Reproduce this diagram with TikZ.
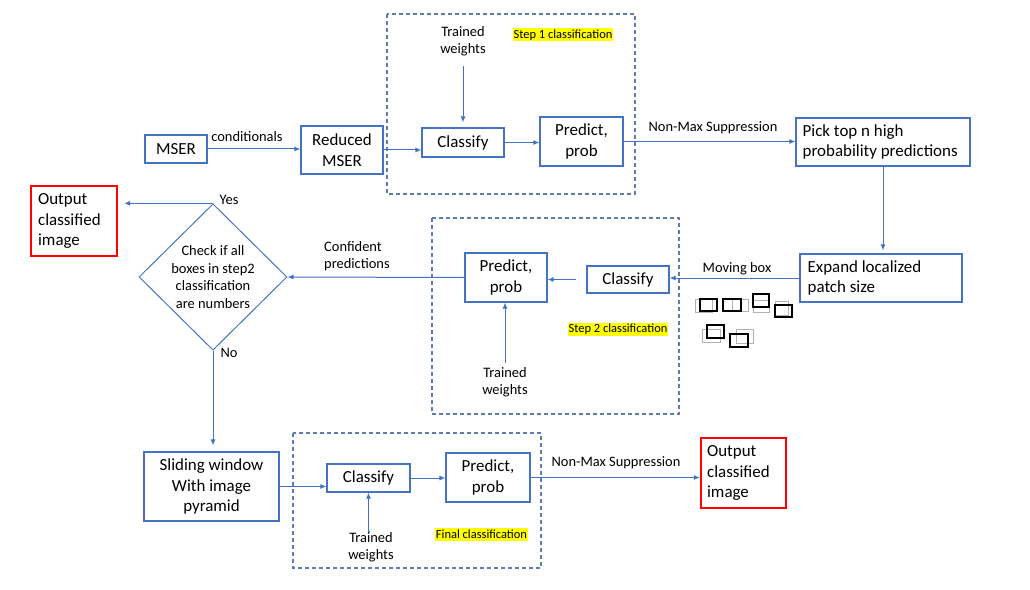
\documentclass[tikz,border=0pt]{standalone}
\usepackage{fontspec}
\setmainfont{Carlito}
\usetikzlibrary{shapes.geometric,arrows.meta}
\definecolor{bl}{HTML}{4472C4}
\definecolor{dsh}{HTML}{5B7DB1}
\definecolor{rd}{HTML}{FF0000}
\definecolor{hly}{HTML}{FFFF00}
\tikzset{
  blbox/.style={draw=bl,line width=1.1bp,rectangle,inner sep=0pt,align=center,font=\fontsize{17}{21}\selectfont},
  redbox/.style={draw=rd,line width=2.2bp,rectangle,inner sep=0pt},
  boxtxt/.style={inner sep=0pt,anchor=west,align=left,font=\fontsize{17}{20.5}\selectfont},
  dashbox/.style={draw=dsh,line width=1.1bp,dash pattern=on 4bp off 3bp},
  lbl/.style={inner sep=0pt,font=\fontsize{14.5}{17.5}\selectfont},
  hl/.style={fill=hly,inner sep=0pt,minimum width=#1,minimum height=13bp,font=\fontsize{12.5}{14}\selectfont},
  arr/.style={draw=bl,line width=1bp,-{Latex[length=6bp,width=5bp]}},
  grb/.style={draw=black!30,line width=0.8bp},
  bkb/.style={draw=black,line width=1.6bp}
}
\begin{document}
\begin{tikzpicture}[x=1bp,y=-1bp]
\useasboundingbox (0,0) rectangle (1030,590);
% dashed groups
\draw[dashbox] (387,14) rectangle (635,194);
\draw[dashbox] (432,218) rectangle (679,414);
\draw[dashbox] (293,433) rectangle (541,568);
% boxes
\node[blbox,minimum width=62bp,minimum height=28bp] (mser) at (176,149) {MSER};
\node[blbox,minimum width=82bp,minimum height=48bp] (red) at (342,150) {Reduced\\MSER};
\node[blbox,minimum width=82bp,minimum height=29bp] (cls1) at (463,142.5) {Classify};
\node[blbox,minimum width=83bp,minimum height=49bp] (pred1) at (581.5,141.5) {Predict,\\prob};
\node[blbox,minimum width=174bp,minimum height=48bp] (pick) at (883,142) {};
\node[boxtxt] (picktxt) at ([xshift=7bp]pick.west) {Pick top n high\\probability predictions};
\node[blbox,minimum width=162bp,minimum height=48bp] (expand) at (881,278) {};
\node[boxtxt] (expandtxt) at ([xshift=8bp]expand.west) {Expand localized\\patch size};
\node[blbox,minimum width=82bp,minimum height=27bp] (cls2) at (628,279.5) {Classify};
\node[blbox,minimum width=82bp,minimum height=49bp] (pred2) at (506,277.5) {Predict,\\prob};
\node[draw=bl,line width=1bp,diamond,inner sep=0pt,minimum width=148bp,minimum height=142bp,align=center,font=\fontsize{14.5}{17.7}\selectfont] (dia) at (213,277) {Check if all\\boxes in step2\\classification\\are numbers};
\node[redbox,minimum width=86bp,minimum height=70bp] (out1) at (74,221) {};
\node[boxtxt] (out1txt) at ([xshift=8bp]out1.west) {Output\\classified\\image};
\node[blbox,minimum width=135bp,minimum height=69bp] (slide) at (211.5,486.5) {Sliding window\\With image\\pyramid};
\node[blbox,minimum width=83bp,minimum height=28bp] (cls3) at (368.5,478) {Classify};
\node[blbox,minimum width=84bp,minimum height=49bp] (pred3) at (488,477.5) {Predict,\\prob};
\node[redbox,minimum width=85bp,minimum height=70bp] (out2) at (743.5,473) {};
\node[boxtxt] (out2txt) at ([xshift=7bp]out2.west) {Output\\classified\\image};
% trained weights
\node[lbl,align=center] (tw1) at (463,41) {Trained\\weights};
\node[lbl,align=center] (tw2) at (505,382) {Trained\\weights};
\node[lbl,align=center] (tw3) at (371,547) {Trained\\weights};
% highlights
\node[hl=100bp] (h1) at (563,35) {Step 1 classification};
\node[hl=100bp] (h2) at (618,329) {Step 2 classification};
\node[hl=93bp] (h3) at (481.5,534.5) {Final classification};
% labels
\node[lbl] (lcond) at (247,137) {conditionals};
\node[lbl] (lnms1) at (713,128) {Non-Max Suppression};
\node[lbl] (lmov) at (737,269) {Moving box};
\node[lbl,align=left,anchor=west] (lconf) at (324,256) {Confident\\predictions};
\node[lbl] (lyes) at (229,200) {Yes};
\node[lbl] (lno) at (229,353) {No};
\node[lbl] (lnms2) at (616,463) {Non-Max Suppression};
% connectors
\draw[arr] (mser.east) -- (mser.east -| red.west);
\draw[arr] (red.east) -- (red.east -| cls1.west);
\draw[arr] (cls1.east) -- (cls1.east -| pred1.west);
\draw[arr] (pred1.east) -- (pred1.east -| pick.west);
\draw[arr,shorten <=10bp,shorten >=5bp] (tw1.south) -- (cls1.north);
\draw[arr,shorten >=3bp] (pick.south) -- (pick.south |- expand.north);
\draw[arr] (expand.west) -- (expand.west -| cls2.east);
\draw[arr,shorten <=10bp] (cls2.west) -- (cls2.west -| pred2.east);
\draw[arr,shorten <=4bp] (tw2.north) -- (tw2.north |- pred2.south);
\draw[arr] (pred2.west) -- (dia.east);
\draw[arr,shorten >=6bp] (dia.north) -- (dia.north -| out1.east);
\draw[arr,shorten >=6bp] (dia.south) -- (dia.south |- slide.north);
\draw[arr] (slide.east) -- (slide.east -| cls3.west);
\draw[arr] (cls3.east) -- (cls3.east -| pred3.west);
\draw[arr,shorten <=2bp] (tw3.north) -- (tw3.north -| cls3.south) -- (cls3.south);
\draw[arr] (pred3.east) -- (pred3.east -| out2.west);
% moving box glyphs
\draw[grb] (695,299) rectangle (712,312);
\draw[grb] (732,299) rectangle (748,311);
\draw[grb] (753,300) rectangle (769,312);
\draw[grb] (775,301) rectangle (788,315);
\draw[grb] (702,329) rectangle (720,342);
\draw[grb] (736,329) rectangle (753,343);
\draw[bkb] (700,299) rectangle (717,311);
\draw[bkb] (723,299) rectangle (741,311);
\draw[bkb] (753,294) rectangle (769,307);
\draw[bkb] (775,305) rectangle (792,317);
\draw[bkb] (707,325) rectangle (724,338);
\draw[bkb] (730,334) rectangle (748,347);
\end{tikzpicture}
\end{document}
